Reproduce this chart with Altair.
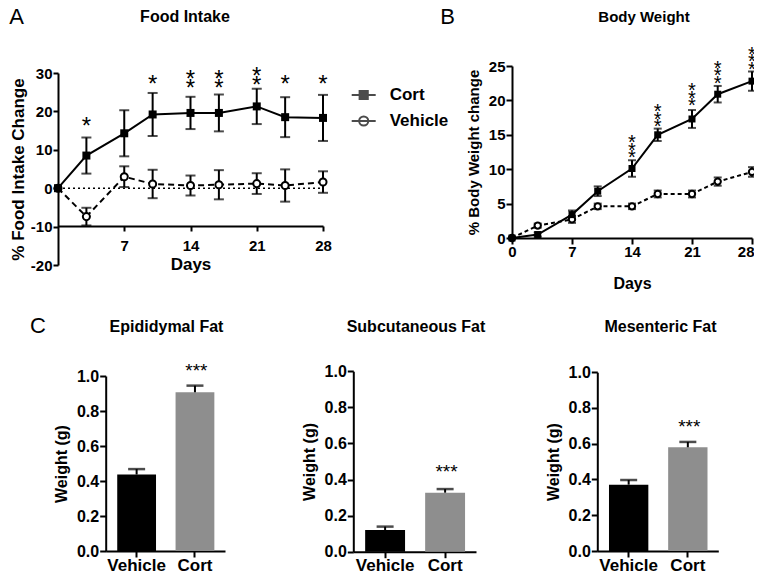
import altair as alt
import pandas as pd

# ---------------- data ----------------
days = [0, 3, 7, 10, 14, 17, 21, 24, 28]

food_cort = [0, 8.5, 14.3, 19.2, 19.6, 19.6, 21.3, 18.5, 18.3]
food_cort_err = [0, 4.7, 6.0, 5.6, 4.2, 4.8, 4.6, 5.2, 6.0]
food_veh = [0, -7.4, 3.0, 1.1, 0.7, 0.9, 1.2, 0.7, 1.6]
food_veh_err = [0, 2.3, 2.7, 3.7, 2.6, 3.8, 2.7, 4.2, 2.8]

body_cort = [0, 0.5, 3.4, 6.8, 10.1, 15.0, 17.3, 20.9, 22.8]
body_cort_err = [0, 0.3, 0.6, 0.7, 1.2, 0.9, 1.3, 1.2, 1.4]
body_veh = [0, 1.8, 2.7, 4.6, 4.6, 6.4, 6.4, 8.2, 9.6]
body_veh_err = [0, 0.3, 0.5, 0.4, 0.4, 0.5, 0.5, 0.6, 0.7]

star_days_a = [3, 10, 14, 17, 21, 24, 28]
star_y_a = [17.7, 28.6, 29.9, 29.9, 30.8, 28.6, 28.6]
star_txt_a = ["*", "*", "*\n*", "*\n*", "*\n*", "*", "*"]

star_days_b = [14, 17, 21, 24, 28]
star_y_b = [14.6, 19.1, 22.1, 25.4, 27.4]
star_txt_b = ["*\n*\n*"] * 5

series_groups = ["Cort", "Vehicle"]
bar_groups = ["Vehicle", "Cort"]
fat_titles = ["Epididymal Fat", "Subcutaneous Fat", "Mesenteric Fat"]
fat_mean = [[0.437, 0.907], [0.120, 0.327], [0.371, 0.580]]
fat_sem = [[0.031, 0.038], [0.019, 0.020], [0.026, 0.030]]
fat_star_y = [1.057, 0.468, 0.723]
fat_ticks = [0, 0.2, 0.4, 0.6, 0.8, 1.0]

# ---------------- layout (pixels inside the chart) ----------------
W, H = 746, 566
FONT = "Liberation Sans"
AX, AY = [50, 315], [257, 65]
BX, BY = [504, 744], [230, 58]
CX = [[97.7, 217], [345.3, 468], [589.3, 710.3]]
CY = [[543, 368], [543.7, 363.2], [543, 364.2]]
C_TITLE_X = [158, 407.5, 652]

CORT_PATH = "M-1,0H1M-0.34,-0.34H0.34V0.34H-0.34Z"
VEH_PATH = "M-1,0H1M0.38,0A0.38,0.38,0,1,1,-0.38,0A0.38,0.38,0,1,1,0.38,0Z"


def series_df(cort, cort_err, veh, veh_err):
    df = pd.DataFrame({
        "day": days + days,
        "val": cort + veh,
        "err": cort_err + veh_err,
        "group": ["Cort"] * len(days) + ["Vehicle"] * len(days),
    })
    df["lo"] = df["val"] - df["err"]
    df["hi"] = df["val"] + df["err"]
    return df


def caps_df(df):
    d = df[df["err"] > 0]
    lo = d[["day", "group", "lo"]].rename(columns={"lo": "cap"})
    hi = d[["day", "group", "hi"]].rename(columns={"hi": "cap"})
    return pd.concat([lo, hi], ignore_index=True)


def qs(dom, rng):
    return alt.Scale(domain=dom, range=rng, nice=False, zero=False)


def title_axis(text, tx, ty, size):
    return alt.Axis(orient="top", labels=False, ticks=False, domain=False,
                    title=text, titleX=tx, titleY=ty, titleAlign="center",
                    titleBaseline="middle", titleFontSize=size, titleAngle=0)


def letter_axis(text, tx, ty):
    return alt.Axis(orient="left", labels=False, ticks=False, domain=False,
                    title=text, titleX=tx, titleY=ty, titleAlign="center",
                    titleBaseline="middle", titleFontSize=22, titleAngle=0,
                    titleFontWeight="normal")


def line_panel(df, sdays, sy, stxt, xr, ydom, yr, x_main, y_main, top_ax, let_ax,
               dash, cap_size, sq_size, circ_size, star_size, star_lh, zero_line):
    X = lambda f, axis=None: alt.X(f + ":Q", scale=qs([0, 28], xr), axis=axis)
    Y = lambda f, axis=None: alt.Y(f + ":Q", scale=qs(ydom, yr), axis=axis)
    cort = df[df["group"] == "Cort"]
    veh = df[df["group"] == "Vehicle"]
    caps = caps_df(df)
    stars = pd.DataFrame({"day": sdays, "y": sy, "t": stxt})
    out = []
    if zero_line:
        z = pd.DataFrame({"x0": [0], "x1": [28], "y": [0]})
        out.append(alt.Chart(z).mark_rule(strokeDash=[2, 3], strokeWidth=1.5, color="black")
                   .encode(x=X("x0", top_ax), x2="x1", y=Y("y", let_ax)))
        top_ax, let_ax = None, None
    out.append(alt.Chart(veh).mark_line(color="black", strokeWidth=2, strokeDash=dash)
               .encode(x=X("day", top_ax), y=Y("val", let_ax)))
    out.append(alt.Chart(cort).mark_line(color="black", strokeWidth=2)
               .encode(x=X("day", x_main), y=Y("val", y_main)))
    out.append(alt.Chart(df[df["err"] > 0]).mark_rule(color="black", strokeWidth=2)
               .encode(x=X("day"), y=Y("lo"), y2="hi"))
    out.append(alt.Chart(caps).mark_tick(orient="horizontal", size=cap_size, thickness=2, color="black")
               .encode(x=X("day"), y=Y("cap")))
    out.append(alt.Chart(veh).mark_point(shape="circle", filled=True, fill="white", stroke="black",
                                         strokeWidth=2, size=circ_size, opacity=1)
               .encode(x=X("day"), y=Y("val")))
    out.append(alt.Chart(cort).mark_point(shape="square", filled=True, color="black",
                                          size=sq_size, opacity=1)
               .encode(x=X("day"), y=Y("val")))
    out.append(alt.Chart(stars).mark_text(fontSize=star_size, lineBreak="\n", lineHeight=star_lh,
                                          baseline="middle", dy=round(0.275 * star_size, 1),
                                          color="black", font=FONT)
               .encode(x=X("day"), y=Y("y"), text="t:N"))
    return out


layers = []

# ---------------- Panel A ----------------
dfA = series_df(food_cort, food_cort_err, food_veh, food_veh_err)
a_x = alt.Axis(orient="bottom", offset=218 - H, values=[7, 14, 21, 28], title="Days",
               titleFontSize=17, labelFontSize=15, tickSize=5, labelPadding=7, titlePadding=3,
               labelExpr="'' + datum.value")
a_y = alt.Axis(orient="left", offset=-AX[0], values=[-20, -10, 0, 10, 20, 30],
               title="% Food Intake Change", titleFontSize=17, labelFontSize=15,
               tickSize=5, labelPadding=1, titlePadding=3, labelExpr="'' + datum.value")
layers += line_panel(dfA, star_days_a, star_y_a, star_txt_a, AX, [-20, 30], AY, a_x, a_y,
                     title_axis("Food Intake", 176.5, 8, 16), letter_axis("A", 8, 8.5),
                     [6, 4], 10, 64, 50, 24, 9.5, True)

# legend for panel A
legend_kw = dict(orient="none", legendX=342.7, legendY=74, title=None, symbolSize=576,
                 labelFontSize=17, labelFont=FONT, labelFontWeight="bold", labelColor="black",
                 labelOffset=13, rowPadding=4, padding=0, symbolStrokeWidth=2,
                 symbolStrokeColor="black", symbolFillColor="white")
layers.append(
    alt.Chart(dfA).transform_filter(alt.datum.day < 0)
    .mark_point(filled=False, stroke="black", strokeWidth=2)
    .encode(
        shape=alt.Shape("group:N", scale=alt.Scale(domain=series_groups, range=[CORT_PATH, VEH_PATH]),
                        legend=alt.Legend(**legend_kw)),
        fill=alt.Fill("group:N", scale=alt.Scale(domain=series_groups, range=["black", "white"]),
                      legend=alt.Legend(**legend_kw)),
    )
)

# ---------------- Panel B ----------------
dfB = series_df(body_cort, body_cort_err, body_veh, body_veh_err)
b_x = alt.Axis(orient="bottom", offset=BY[0] - H, values=[0, 7, 14, 21, 28], title="Days",
               titleFontSize=16, labelFontSize=15, tickSize=6, labelPadding=0, titlePadding=16,
               labelAlign={"condition": {"test": "datum.value == 28", "value": "right"}, "value": "center"},
               labelOffset={"condition": {"test": "datum.value == 28", "value": 2}, "value": 0})
b_y = alt.Axis(orient="left", offset=-BX[0], values=[0, 5, 10, 15, 20, 25],
               title="% Body Weight change", titleFontSize=15, labelFontSize=15,
               tickSize=6, labelPadding=1, titlePadding=7)
layers += line_panel(dfB, star_days_b, star_y_b, star_txt_b, BX, [0, 25], BY, b_x, b_y,
                     title_axis("Body Weight", 635.5, 8, 15), letter_axis("B", 439, 8.5),
                     [4, 3], 8, 49, 40, 20, 7.5, False)

# ---------------- Panel C ----------------
for i in range(3):
    xr, yr = CX[i], CY[i]
    df = pd.DataFrame({"group": bar_groups, "val": fat_mean[i],
                       "hi": [m + s for m, s in zip(fat_mean[i], fat_sem[i])]})
    stars = pd.DataFrame({"group": ["Cort"], "y": [fat_star_y[i]], "t": ["***"]})
    xs = alt.Scale(domain=bar_groups, range=xr, paddingInner=0.335, paddingOuter=0.19, align=0.52)
    ys = qs([0, 1], yr)
    X = lambda axis=None: alt.X("group:N", scale=xs, axis=axis, sort=bar_groups)
    Y = lambda f, axis=None: alt.Y(f + ":Q", scale=ys, axis=axis)
    cx = alt.Axis(orient="bottom", offset=yr[0] - H, title=None, labelFontSize=17, tickSize=6,
                  labelPadding=0, labelAngle=0)
    cy = alt.Axis(orient="left", offset=-xr[0], values=fat_ticks, format=".1f", title="Weight (g)",
                  titleFontSize=16, labelFontSize=16, tickSize=6, labelPadding=1, titlePadding=7)
    layers.append(
        alt.Chart(df).mark_bar().encode(
            x=X(cx), y=Y("val", cy),
            color=alt.Color("group:N", scale=alt.Scale(domain=bar_groups, range=["black", "#8e8e8e"]),
                            legend=None))
    )
    layers.append(
        alt.Chart(df).mark_rule(color="black", strokeWidth=2).encode(
            x=X(title_axis(fat_titles[i], C_TITLE_X[i], 318, 16)),
            y=Y("val", letter_axis("C", 29.5, 317.5) if i == 0 else None), y2="hi")
    )
    layers.append(
        alt.Chart(df).mark_tick(orient="horizontal", size=17, thickness=2.5, color="black")
        .encode(x=X(), y=Y("hi"))
    )
    layers.append(
        alt.Chart(stars).mark_text(fontSize=19, baseline="middle", dy=5, color="black", font=FONT)
        .encode(x=X(), y=Y("y"), text="t:N")
    )

chart = (
    alt.layer(*layers)
    .resolve_scale(x="independent", y="independent")
    .resolve_axis(x="independent", y="independent")
    .properties(width=W, height=H, autosize=alt.AutoSizeParams(type="none"), padding=0)
    .configure_view(stroke=None)
    .configure_axis(grid=False, domainColor="black", domainWidth=2, tickColor="black", tickWidth=2,
                    labelColor="black", titleColor="black", labelFont=FONT, titleFont=FONT,
                    labelFontWeight="bold", titleFontWeight="bold", labelFlush=False,
                    labelOverlap=False)
    .configure_text(font=FONT)
)

chart.save("out.html", embed_options={"renderer": "svg", "actions": False})
